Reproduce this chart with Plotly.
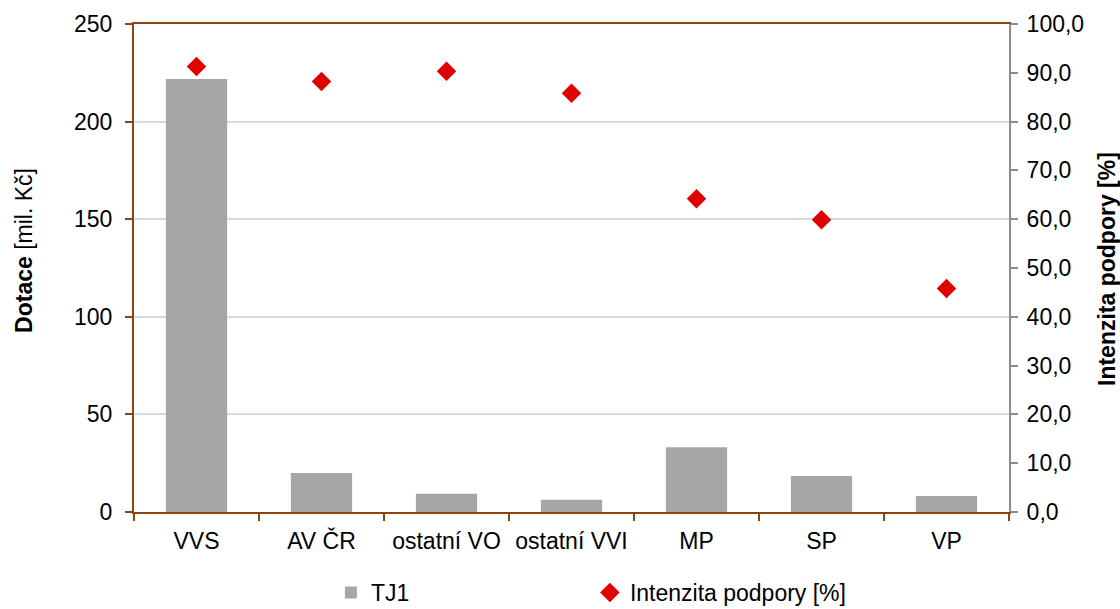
import plotly.graph_objects as go

categories = ["VVS", "AV ČR", "ostatní VO", "ostatní VVI", "MP", "SP", "VP"]
dotace = [221.8, 20.0, 9.3, 6.3, 33.2, 18.5, 8.2]
intenzita = [91.3, 88.2, 90.3, 85.8, 64.2, 59.9, 45.8]

left_ticks = [0, 50, 100, 150, 200, 250]
right_ticks = [0, 10, 20, 30, 40, 50, 60, 70, 80, 90, 100]

BROWN = "#8B4513"
GRAY_AX = "#8c8c8c"
FONT = "Liberation Sans, Arial, sans-serif"
FS = 23

fig = go.Figure()
fig.add_trace(go.Bar(x=categories, y=dotace, name="TJ1", marker_color="#a6a6a6",
                     marker_line_width=0, yaxis="y"))
fig.add_trace(go.Scatter(x=categories, y=intenzita, name="Intenzita podpory [%]", mode="markers",
                         marker=dict(symbol="diamond", color="#e00000", size=15, line_width=0),
                         yaxis="y2"))

fig.update_layout(
    width=1120, height=609,
    margin=dict(l=134, r=111, t=24, b=97),
    paper_bgcolor="white", plot_bgcolor="white",
    separators=", ",
    font=dict(family=FONT, size=FS, color="black"),
    bargap=0.51,
    showlegend=True,
    legend=dict(orientation="h", x=0.225, xanchor="left", yref="container", y=0.027, yanchor="middle",
                entrywidth=214, entrywidthmode="pixels",
                font=dict(family=FONT, size=FS), itemwidth=30, tracegroupgap=0),
    xaxis=dict(showline=True, linecolor=BROWN, linewidth=2, mirror=True, automargin=False,
               ticks="outside", tickson="boundaries", tickcolor=BROWN, ticklen=7, tickwidth=1.5,
               ticklabelstandoff=7,
               showgrid=False, tickfont=dict(family=FONT, size=FS)),
    yaxis=dict(range=[0, 250], tickvals=left_ticks, showline=True, linecolor=BROWN, linewidth=2,
               ticks="outside", tickcolor=BROWN, ticklen=7, tickwidth=1.5, automargin=False,
               ticklabelstandoff=8,
               showgrid=True, gridcolor="#d9d9d9", gridwidth=1.5, zeroline=False,
               tickfont=dict(family=FONT, size=FS)),
    yaxis2=dict(range=[0, 100], tickvals=right_ticks, tickformat=".1f", overlaying="y", side="right",
                showline=True, linecolor=GRAY_AX, linewidth=2, automargin=False,
                ticks="outside", tickcolor=GRAY_AX, ticklen=7, tickwidth=1.5,
                ticklabelstandoff=4,
                showgrid=False, zeroline=False, tickfont=dict(family=FONT, size=FS)),
    annotations=[
        dict(text="<b>Dotace</b> [mil. Kč]", xref="paper", yref="paper", x=-0.1257, y=0.535,
             xanchor="center", yanchor="middle", textangle=-90, showarrow=False,
             font=dict(family=FONT, size=FS)),
        dict(text="<b>Intenzita podpory [%]</b>", xref="paper", yref="paper", x=1.112, y=0.498,
             xanchor="center", yanchor="middle", textangle=-90, showarrow=False,
             font=dict(family=FONT, size=FS)),
    ],
)

fig.write_html("out.html", config={"displayModeBar": False},
               post_script="document.body.style.margin='0';")
